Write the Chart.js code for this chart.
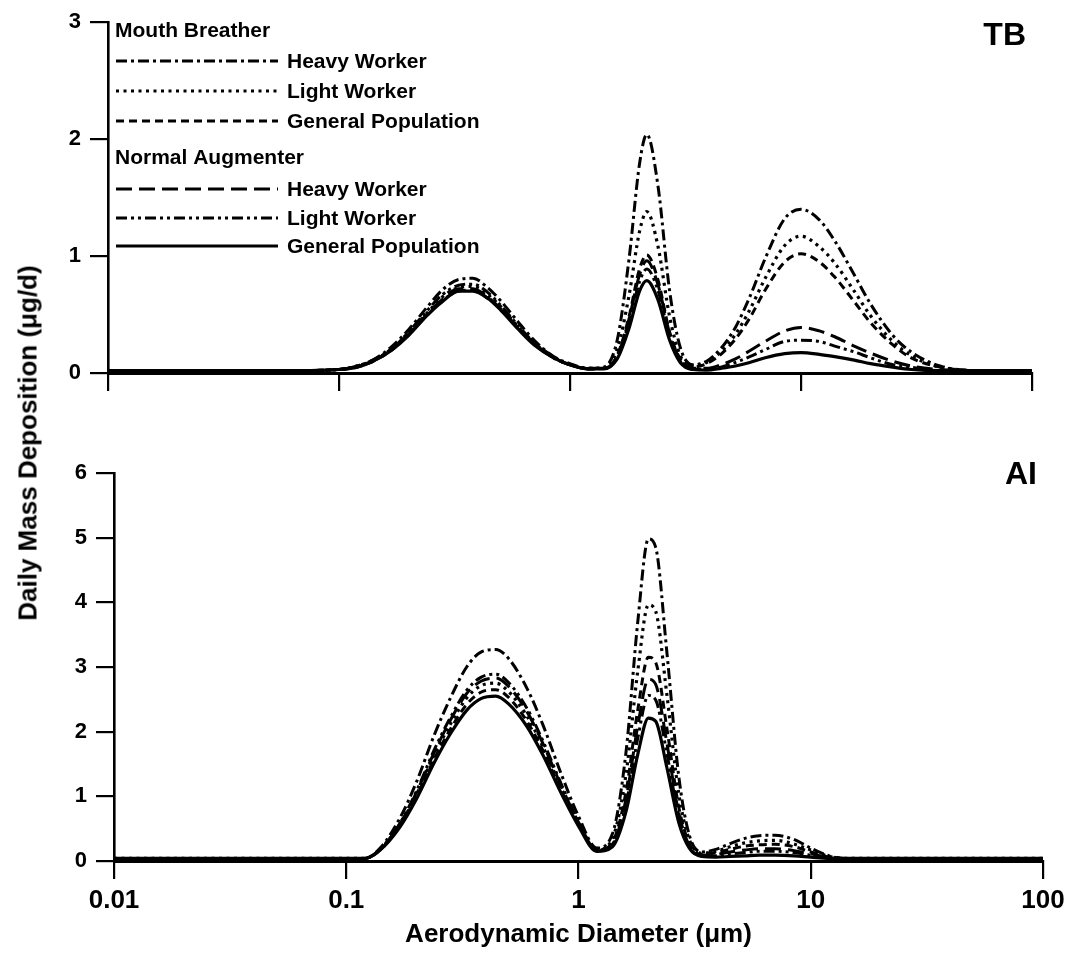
<!DOCTYPE html>
<html>
<head>
<meta charset="utf-8">
<title>Daily Mass Deposition</title>
<script src="https://cdn.jsdelivr.net/npm/chart.js@4.4.1/dist/chart.umd.min.js"></script>
<style>
  html, body { margin: 0; padding: 0; background: #fff; }
  #wrap { position: relative; width: 1080px; height: 956px; overflow: hidden; background: #fff; }
  #c-tb { position: absolute; left: 0; top: 0; }
  #c-ai { position: absolute; left: 0; top: 440px; }
  #ytitle {
    position: absolute; left: 28px; top: 443px;
    transform: translate(-50%, -50%) rotate(-90deg);
    white-space: nowrap; color: #000;
    font: bold 26px "Liberation Sans", Arial, sans-serif;
  }
</style>
</head>
<body>
<div id="wrap">
  <canvas id="c-tb" width="1080" height="400"></canvas>
  <canvas id="c-ai" width="1080" height="516"></canvas>
  <div id="ytitle">Daily Mass Deposition (μg/d)</div>
</div>
<script>
/* ============================================================
   Deposición diaria de masa — regiones TB y AI
   ============================================================ */

// diámetro aerodinámico (µm), eje x común
var DIAMETRO = [0.01, 0.03, 0.06, 0.1, 0.12, 0.14, 0.17, 0.2, 0.24, 0.28, 0.33, 0.38, 0.44, 0.5, 0.6, 0.7, 0.85, 1.0,
  1.2, 1.4, 1.6, 1.8, 2.0, 2.15, 2.4, 2.7, 3.0, 3.4, 3.9, 4.5, 5.2, 6, 7, 8.5, 10, 12, 14, 17, 20, 25, 30, 40, 60, 100];

var X_TICKS = [0.01, 0.1, 1, 10, 100];
var X_TICK_LABELS = ['0.01', '0.1', '1', '10', '100'];

var GRUPOS = ['Mouth Breather', 'Normal Augmenter'];
var SERIES = ['Heavy Worker', 'Light Worker', 'General Population', 'Heavy Worker', 'Light Worker', 'General Population'];

// ---- TB (µg/d)
var TB_MB_HEAVY = [0.02, 0.02, 0.02, 0.03, 0.06, 0.11, 0.23, 0.37, 0.56, 0.71, 0.80, 0.81, 0.73, 0.62, 0.43, 0.28, 0.14, 0.08,
  0.04, 0.05, 0.28, 0.97, 1.79, 2.04, 1.61, 0.70, 0.22, 0.07, 0.10, 0.21, 0.39, 0.65, 0.98, 1.32, 1.40, 1.31, 1.13, 0.84, 0.59, 0.32, 0.18, 0.06, 0.02, 0.02];
var TB_MB_LIGHT = [0.02, 0.02, 0.02, 0.03, 0.06, 0.10, 0.21, 0.34, 0.51, 0.65, 0.73, 0.74, 0.67, 0.57, 0.39, 0.26, 0.13, 0.07,
  0.04, 0.04, 0.20, 0.66, 1.21, 1.38, 1.09, 0.48, 0.15, 0.06, 0.09, 0.18, 0.33, 0.54, 0.81, 1.09, 1.17, 1.08, 0.94, 0.70, 0.49, 0.27, 0.15, 0.05, 0.02, 0.02];
var TB_MB_GENERAL = [0.02, 0.02, 0.02, 0.03, 0.05, 0.10, 0.20, 0.33, 0.49, 0.62, 0.70, 0.71, 0.64, 0.55, 0.38, 0.25, 0.13, 0.07,
  0.035, 0.04, 0.15, 0.48, 0.89, 1.01, 0.80, 0.35, 0.12, 0.05, 0.08, 0.16, 0.29, 0.47, 0.71, 0.95, 1.02, 0.95, 0.82, 0.61, 0.43, 0.24, 0.13, 0.05, 0.02, 0.02];
var TB_NA_HEAVY = [0.02, 0.02, 0.02, 0.03, 0.055, 0.10, 0.20, 0.33, 0.50, 0.63, 0.72, 0.72, 0.65, 0.55, 0.38, 0.25, 0.13, 0.07,
  0.035, 0.04, 0.14, 0.46, 0.84, 0.96, 0.76, 0.34, 0.11, 0.04, 0.04, 0.07, 0.12, 0.19, 0.27, 0.36, 0.39, 0.36, 0.31, 0.23, 0.17, 0.10, 0.06, 0.03, 0.02, 0.02];
var TB_NA_LIGHT = [0.02, 0.02, 0.02, 0.03, 0.06, 0.11, 0.21, 0.35, 0.53, 0.67, 0.75, 0.76, 0.69, 0.58, 0.40, 0.26, 0.14, 0.07,
  0.04, 0.04, 0.13, 0.43, 0.78, 0.89, 0.71, 0.31, 0.10, 0.03, 0.03, 0.05, 0.09, 0.14, 0.20, 0.27, 0.28, 0.27, 0.23, 0.18, 0.13, 0.07, 0.05, 0.02, 0.02, 0.02];
var TB_NA_GENERAL = [0.02, 0.02, 0.02, 0.03, 0.05, 0.10, 0.20, 0.32, 0.49, 0.61, 0.70, 0.70, 0.64, 0.54, 0.37, 0.24, 0.13, 0.07,
  0.035, 0.035, 0.12, 0.38, 0.70, 0.79, 0.63, 0.28, 0.09, 0.03, 0.025, 0.04, 0.06, 0.09, 0.13, 0.165, 0.175, 0.16, 0.14, 0.11, 0.08, 0.05, 0.03, 0.02, 0.02, 0.02];

// ---- AI (µg/d)
var AI_MB_HEAVY = [0.04, 0.04, 0.04, 0.04, 0.04, 0.20, 0.66, 1.21, 1.96, 2.51, 3.00, 3.23, 3.27, 3.13, 2.67, 2.12, 1.31, 0.69,
  0.20, 0.42, 1.67, 3.70, 4.98, 4.85, 3.24, 1.32, 0.40, 0.14, 0.18, 0.27, 0.35, 0.39, 0.40, 0.33, 0.20, 0.08, 0.04, 0.04, 0.04, 0.04, 0.04, 0.04, 0.04, 0.04];
var AI_MB_LIGHT = [0.04, 0.04, 0.04, 0.04, 0.04, 0.18, 0.56, 1.02, 1.65, 2.11, 2.52, 2.71, 2.75, 2.62, 2.24, 1.78, 1.10, 0.58,
  0.17, 0.35, 1.33, 2.94, 3.96, 3.86, 2.58, 1.05, 0.33, 0.12, 0.15, 0.22, 0.28, 0.31, 0.32, 0.26, 0.17, 0.07, 0.04, 0.04, 0.04, 0.04, 0.04, 0.04, 0.04, 0.04];
var AI_MB_GENERAL = [0.04, 0.04, 0.04, 0.04, 0.04, 0.17, 0.54, 0.98, 1.59, 2.03, 2.42, 2.61, 2.65, 2.53, 2.16, 1.72, 1.06, 0.56,
  0.16, 0.29, 1.06, 2.34, 3.15, 3.07, 2.06, 0.84, 0.27, 0.10, 0.13, 0.18, 0.23, 0.25, 0.26, 0.22, 0.14, 0.06, 0.04, 0.04, 0.04, 0.04, 0.04, 0.04, 0.04, 0.04];
var AI_NA_HEAVY = [0.04, 0.04, 0.04, 0.04, 0.04, 0.18, 0.57, 1.05, 1.69, 2.17, 2.59, 2.78, 2.83, 2.70, 2.31, 1.83, 1.13, 0.60,
  0.17, 0.26, 0.95, 2.09, 2.81, 2.73, 1.83, 0.75, 0.24, 0.09, 0.10, 0.14, 0.17, 0.19, 0.19, 0.16, 0.11, 0.06, 0.04, 0.04, 0.04, 0.04, 0.04, 0.04, 0.04, 0.04];
var AI_NA_LIGHT = [0.04, 0.04, 0.04, 0.04, 0.04, 0.18, 0.58, 1.07, 1.73, 2.21, 2.64, 2.84, 2.89, 2.76, 2.36, 1.87, 1.16, 0.61,
  0.17, 0.25, 0.87, 1.90, 2.56, 2.49, 1.67, 0.69, 0.22, 0.08, 0.08, 0.11, 0.13, 0.15, 0.15, 0.13, 0.09, 0.05, 0.04, 0.04, 0.04, 0.04, 0.04, 0.04, 0.04, 0.04];
var AI_NA_GENERAL = [0.04, 0.04, 0.04, 0.04, 0.04, 0.17, 0.52, 0.95, 1.53, 1.96, 2.33, 2.51, 2.55, 2.43, 2.08, 1.65, 1.02, 0.54,
  0.15, 0.22, 0.76, 1.65, 2.21, 2.16, 1.45, 0.60, 0.20, 0.07, 0.06, 0.07, 0.08, 0.09, 0.09, 0.08, 0.06, 0.04, 0.04, 0.04, 0.04, 0.04, 0.04, 0.04, 0.04, 0.04];

// estilos de línea por serie (mismo orden que SERIES)
var ESTILOS = [
  { dash: [11, 4, 3, 4], width: 3 },           // MB heavy: raya-punto
  { dash: [3, 4.5], width: 3.2 },              // MB light: punteada
  { dash: [8, 5], width: 3 },                  // MB general: rayas cortas
  { dash: [16, 7], width: 3 },                 // NA heavy: rayas largas
  { dash: [11, 4, 3, 4, 3, 4], width: 3 },     // NA light: raya-punto-punto
  { dash: [], width: 3.2 }                     // NA general: continua
];

var FUENTE = '"Liberation Sans", Arial, Helvetica, sans-serif';
Chart.defaults.font.family = FUENTE;
Chart.defaults.font.weight = 'bold';
Chart.defaults.color = '#000';

function puntos(valores) {
  var out = [];
  for (var i = 0; i < DIAMETRO.length; i++) out.push({ x: DIAMETRO[i], y: valores[i] });
  return out;
}

function armarDatasets(listas) {
  var ds = [];
  for (var i = 0; i < listas.length; i++) {
    ds.push({
      label: SERIES[i],
      data: puntos(listas[i]),
      borderColor: '#000',
      borderWidth: ESTILOS[i].width,
      borderDash: ESTILOS[i].dash,
      pointRadius: 0,
      fill: false,
      cubicInterpolationMode: 'monotone'
    });
  }
  return ds;
}

// leyenda con encabezados de grupo + etiqueta del panel (TB / AI)
var leyendaPlugin = {
  id: 'leyendaGrupos',
  afterDraw: function(chart, args, opts) {
    var ctx = chart.ctx;
    var area = chart.chartArea;
    ctx.save();
    ctx.fillStyle = '#000';
    ctx.strokeStyle = '#000';
    ctx.textBaseline = 'middle';

    if (opts.panel) {
      ctx.font = 'bold 32px ' + FUENTE;
      ctx.textAlign = 'right';
      ctx.fillText(opts.panel, area.right - 6, area.top + opts.panelDy);
    }

    if (opts.show) {
      ctx.textAlign = 'left';
      ctx.font = 'bold 21px ' + FUENTE;
      var headerY = [31, 158];
      var rowY = [61, 91, 121, 189, 218, 246];
      for (var g = 0; g < GRUPOS.length; g++) ctx.fillText(GRUPOS[g], 115, headerY[g]);
      var dsets = chart.data.datasets;
      for (var i = 0; i < dsets.length; i++) {
        ctx.beginPath();
        ctx.lineWidth = ESTILOS[i].width;
        ctx.setLineDash(ESTILOS[i].dash);
        ctx.moveTo(116, rowY[i]);
        ctx.lineTo(278, rowY[i]);
        ctx.stroke();
        ctx.setLineDash([]);
        ctx.fillText(dsets[i].label, 287, rowY[i] + 1);
      }
    }
    ctx.restore();
  }
};

function opcionesEjes(yMax, conEtiquetasX, anchoY, altoX) {
  return {
    x: {
      type: 'logarithmic',
      min: 0.01,
      max: 100,
      afterBuildTicks: function(scale) {
        scale.ticks = X_TICKS.map(function(v) { return { value: v, major: true }; });
      },
      afterFit: function(scale) { scale.height = altoX; },
      ticks: {
        autoSkip: false,
        maxRotation: 0,
        padding: 6,
        font: { size: 26, weight: 'bold' },
        callback: function(v) {
          if (!conEtiquetasX) return '';
          var i = X_TICKS.indexOf(v);
          return i >= 0 ? X_TICK_LABELS[i] : '';
        }
      },
      grid: { drawOnChartArea: false, drawTicks: true, tickLength: 18, color: '#000', lineWidth: 2.2 },
      border: { display: true, color: '#000', width: 3 },
      title: conEtiquetasX ? {
        display: true,
        text: 'Aerodynamic Diameter (μm)',
        font: { size: 26, weight: 'bold' },
        padding: { top: 0, bottom: 4 }
      } : { display: false }
    },
    y: {
      min: 0,
      max: yMax,
      afterFit: function(scale) { scale.width = anchoY; },
      ticks: { stepSize: 1, padding: 9, font: { size: 22, weight: 'bold' } },
      grid: { drawOnChartArea: false, drawTicks: true, tickLength: 18, color: '#000', lineWidth: 2.2 },
      border: { display: true, color: '#000', width: 2.6 }
    }
  };
}

// ---- Panel superior: TB
new Chart(document.getElementById('c-tb').getContext('2d'), {
  type: 'line',
  data: { datasets: armarDatasets([TB_MB_HEAVY, TB_MB_LIGHT, TB_MB_GENERAL, TB_NA_HEAVY, TB_NA_LIGHT, TB_NA_GENERAL]) },
  options: {
    responsive: false,
    animation: false,
    events: [],
    layout: { padding: { left: 0, right: 48, top: 21, bottom: 0 } },
    scales: opcionesEjes(3, false, 108, 27),
    plugins: {
      legend: { display: false },
      tooltip: { enabled: false },
      leyendaGrupos: { show: true, panel: 'TB', panelDy: 14 }
    }
  },
  plugins: [leyendaPlugin]
});

// ---- Panel inferior: AI
new Chart(document.getElementById('c-ai').getContext('2d'), {
  type: 'line',
  data: { datasets: armarDatasets([AI_MB_HEAVY, AI_MB_LIGHT, AI_MB_GENERAL, AI_NA_HEAVY, AI_NA_LIGHT, AI_NA_GENERAL]) },
  options: {
    responsive: false,
    animation: false,
    events: [],
    layout: { padding: { left: 0, right: 37, top: 33, bottom: 2 } },
    scales: opcionesEjes(6, true, 114, 93),
    plugins: {
      legend: { display: false },
      tooltip: { enabled: false },
      leyendaGrupos: { show: false, panel: 'AI', panelDy: 2 }
    }
  },
  plugins: [leyendaPlugin]
});
</script>
</body>
</html>
